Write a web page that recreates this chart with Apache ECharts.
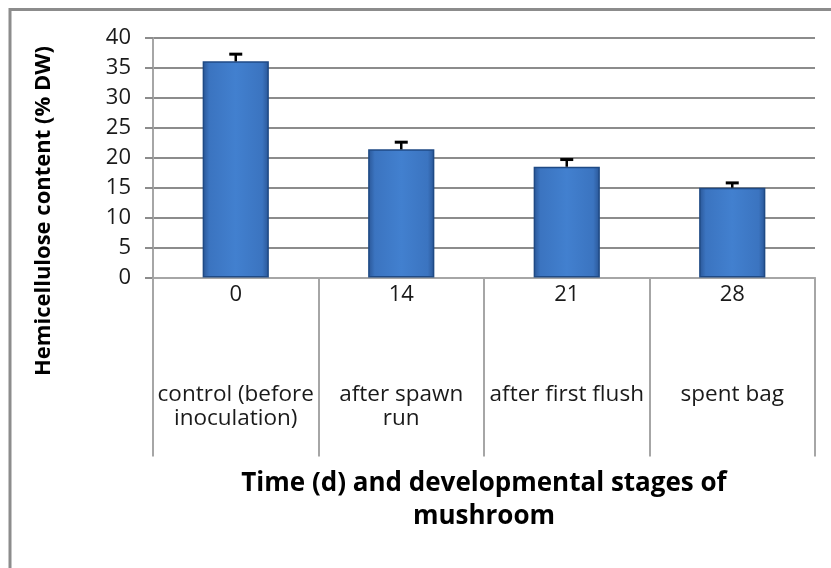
<!DOCTYPE html>
<html>
<head>
<meta charset="utf-8">
<script src="https://cdn.jsdelivr.net/npm/echarts@6/dist/echarts.min.js"></script>
<style>html,body{margin:0;padding:0;background:#fff}#c{width:831px;height:568px}</style>
</head>
<body>
<div id="c"></div>
<script>
var days = ['0', '14', '21', '28'];
var stages = ['control (before\ninoculation)', 'after spawn\nrun', 'after first flush', 'spent bag'];
var values = [36.1, 21.4, 18.5, 15.0];
var errors = [1.2, 1.2, 1.2, 0.8];
var yTicks = [0, 5, 10, 15, 20, 25, 30, 35, 40];
var yTitle = 'Hemicellulose content (% DW)';
var xTitle = 'Time (d) and developmental stages of\nmushroom';

var FONT = '"Open Sans", "Noto Sans", sans-serif';
var categories = days.map(function (d, i) { return d + '|' + stages[i]; });

var chart = echarts.init(document.getElementById('c'));
chart.setOption({
  animation: false,
  backgroundColor: '#fff',
  grid: { left: 153, right: 16, top: 38, bottom: 290.5, containLabel: false },
  xAxis: {
    type: 'category',
    data: categories,
    axisLine: { show: true, lineStyle: { color: '#a6a6a6', width: 2 } },
    axisTick: { show: true, length: 179, lineStyle: { color: '#a6a6a6', width: 2 } },
    axisLabel: {
      margin: 4,
      interval: 0,
      formatter: function (v) {
        var p = v.split('|');
        var lines = p[1].split('\n').map(function (s) { return '{c|' + s + '}'; });
        return '{n|' + p[0] + '}\n{s| }\n' + lines.join('\n');
      },
      rich: {
        n: { fontFamily: FONT, fontSize: 22, color: '#1a1a1a', lineHeight: 26 },
        s: { fontSize: 10, lineHeight: 75 },
        c: { fontFamily: FONT, fontSize: 22.5, color: '#1a1a1a', lineHeight: 24 }
      }
    }
  },
  yAxis: {
    type: 'value',
    min: yTicks[0],
    max: yTicks[yTicks.length - 1],
    interval: yTicks[1] - yTicks[0],
    axisLine: { show: true, lineStyle: { color: '#a6a6a6', width: 2 } },
    axisTick: { show: true, length: 8, lineStyle: { color: '#8c8c8c', width: 2 } },
    axisLabel: { fontFamily: FONT, fontSize: 22, color: '#1a1a1a', margin: 22 },
    splitLine: { show: true, lineStyle: { color: '#8c8c8c', width: 2 } }
  },
  series: [
    {
      type: 'bar',
      data: values,
      barWidth: '40%',
      itemStyle: {
        color: {
          type: 'linear', x: 0, y: 0, x2: 1, y2: 0,
          colorStops: [
            { offset: 0, color: '#2a5696' },
            { offset: 0.1, color: '#3b74c0' },
            { offset: 0.5, color: '#4280cf' },
            { offset: 0.9, color: '#3b74c0' },
            { offset: 1, color: '#2a5696' }
          ]
        },
        borderColor: '#1f4a85',
        borderWidth: 1.5
      },
      z: 2
    },
    {
      type: 'custom',
      z: 5,
      data: values.map(function (v, i) { return [i, v, errors[i]]; }),
      renderItem: function (params, api) {
        var x = api.value(0);
        var v = api.value(1);
        var e = api.value(2);
        var p0 = api.coord([x, v]);
        var p1 = api.coord([x, v + e]);
        var hw = 6.5;
        return {
          type: 'group',
          children: [
            { type: 'line', shape: { x1: p0[0], y1: p0[1], x2: p1[0], y2: p1[1] }, style: { stroke: '#000', lineWidth: 2.5 } },
            { type: 'line', shape: { x1: p1[0] - hw, y1: p1[1], x2: p1[0] + hw, y2: p1[1] }, style: { stroke: '#000', lineWidth: 3 } }
          ]
        };
      }
    }
  ],
  graphic: [
    {
      type: 'polyline',
      shape: { points: [[10, 600], [10, 9.5], [840, 9.5]] },
      style: { stroke: '#8c8c8c', lineWidth: 3, fill: null },
      silent: true
    },
    {
      type: 'text',
      x: 44, y: 211,
      rotation: Math.PI / 2,
      style: {
        text: yTitle,
        fontFamily: FONT, fontSize: 22, fontWeight: 'bold', fill: '#000',
        align: 'center', verticalAlign: 'middle'
      }
    },
    {
      type: 'text',
      x: 484, y: 500,
      style: {
        text: xTitle,
        fontFamily: FONT, fontSize: 26, fontWeight: 'bold', fill: '#000',
        align: 'center', verticalAlign: 'middle', lineHeight: 33
      }
    }
  ]
});
</script>
</body>
</html>
